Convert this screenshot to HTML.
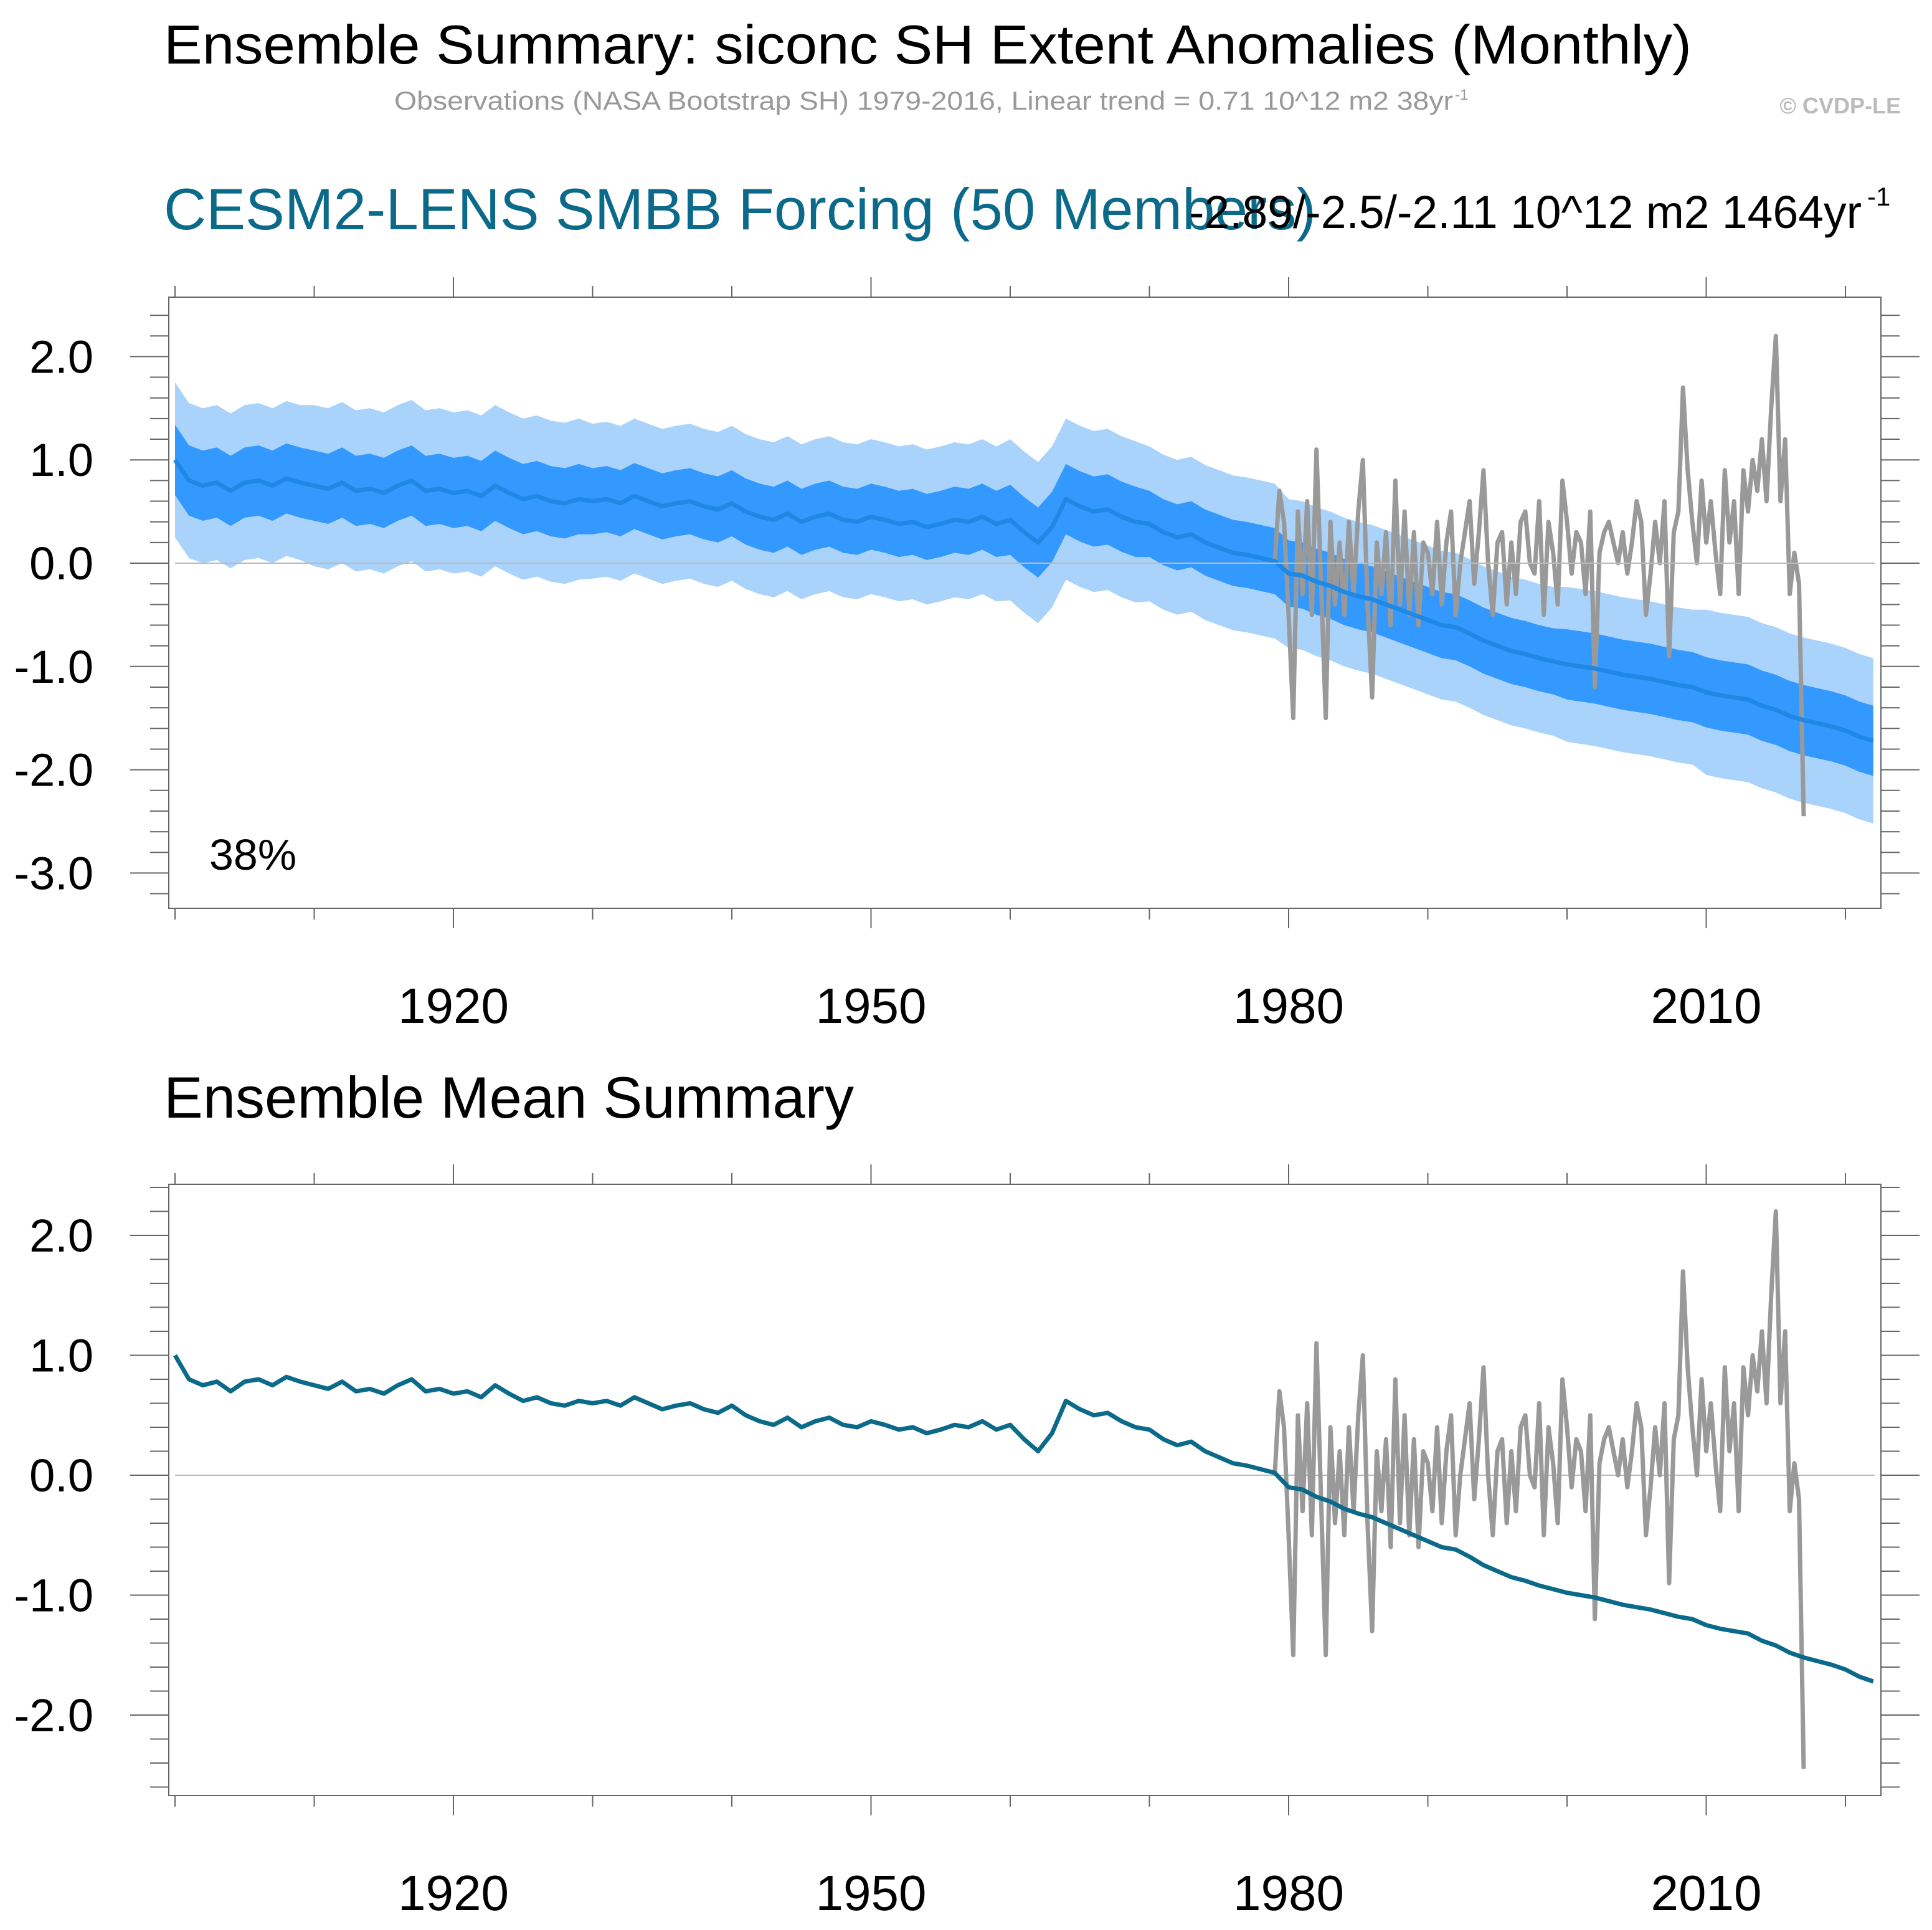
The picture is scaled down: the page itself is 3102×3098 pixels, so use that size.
<!DOCTYPE html>
<html><head><meta charset="utf-8"><style>
html,body{margin:0;padding:0;background:#fff}
svg{display:block}
text{font-family:"Liberation Sans",Arial,sans-serif}
</style></head><body>
<svg id="chart" width="3102" height="3098" viewBox="0 0 3102 3098" xmlns="http://www.w3.org/2000/svg">
<text x="263" y="102" font-size="88" fill="#000" textLength="2453" lengthAdjust="spacingAndGlyphs">Ensemble Summary: siconc SH Extent Anomalies (Monthly)</text>
<text x="633" y="176" font-size="42" fill="#999" textLength="1700" lengthAdjust="spacingAndGlyphs">Observations (NASA Bootstrap SH) 1979-2016, Linear trend = 0.71 10^12 m2 38yr</text>
<text x="2336" y="160" font-size="24" fill="#999">-1</text>
<text x="3052" y="182" font-size="36" font-weight="bold" fill="#bbb" text-anchor="end">© CVDP-LE</text>
<text x="263" y="368" font-size="94" fill="#0b6a8a" textLength="1850" lengthAdjust="spacingAndGlyphs">CESM2-LENS SMBB Forcing (50 Members)</text>
<text x="1909" y="366" font-size="74" fill="#000" textLength="1080" lengthAdjust="spacingAndGlyphs">-2.89/-2.5/-2.11 10^12 m2 1464yr</text>
<text x="2998" y="330" font-size="42" fill="#000">-1</text>
<text x="336" y="1396" font-size="70" fill="#000">38%</text>
<text x="263" y="1794" font-size="94" fill="#000" textLength="1108" lengthAdjust="spacingAndGlyphs">Ensemble Mean Summary</text>
<g id="p1"></g>
<g id="p2"></g>
</svg>
<script>
const years = [];
for (let y = 1900; y <= 2022; y++) years.push(y);
const ensMean = [1.0,0.8,0.75,0.78,0.7,0.78,0.8,0.75,0.82,0.78,
0.75,0.72,0.78,0.70,0.72,0.68,0.75,0.80,0.70,0.72,
0.68,0.70,0.65,0.75,0.68,0.62,0.65,0.60,0.58,0.62,
0.60,0.62,0.58,0.65,0.60,0.55,0.58,0.60,0.55,0.52,
0.58,0.50,0.45,0.42,0.48,0.40,0.45,0.48,0.42,0.40,
0.45,0.42,0.38,0.40,0.35,0.38,0.42,0.40,0.45,0.38,
0.42,0.30,0.20,0.35,0.62,0.55,0.50,0.52,0.45,0.40,
0.38,0.30,0.25,0.28,0.20,0.15,0.10,0.08,0.05,0.02,
-0.10,-0.12,-0.18,-0.22,-0.28,-0.32,-0.35,-0.40,-0.45,-0.50,
-0.55,-0.60,-0.62,-0.68,-0.75,-0.80,-0.85,-0.88,-0.92,-0.95,
-0.98,-1.00,-1.02,-1.05,-1.08,-1.10,-1.12,-1.15,-1.18,-1.20,
-1.25,-1.28,-1.30,-1.32,-1.38,-1.42,-1.48,-1.52,-1.55,-1.58,
-1.62,-1.68,-1.72];
// spread half-widths per decade (1900s..2020s)
const outerHalf = [0.75,0.78,0.78,0.75,0.75,0.75,0.78,0.75,0.72,0.72,0.75,0.8,0.8];
const innerHalf = [0.34,0.34,0.34,0.32,0.32,0.32,0.34,0.32,0.32,0.32,0.34,0.34,0.34];
const obsStart = 1979;
const obsVals = [0.0,0.7,0.4, -0.5,-1.5,0.5, -0.3,0.6,-0.5, 1.1,-0.2,-1.5, 0.4,-0.4,0.2, -0.5,0.4,-0.3,
0.5,1.0,-0.4, -1.3,0.2,-0.3, 0.3,-0.6,0.8, -0.4,0.5,-0.5, 0.3,-0.6,0.2, 0.1,-0.3,0.4,
-0.4,0.2,0.5, -0.5,0.0,0.3, 0.6,-0.2,0.3, 0.9,0.0,-0.5, 0.2,0.3,-0.4, 0.2,-0.3,0.4,
0.5,0.0,-0.1, 0.6,-0.5,0.4, 0.1,-0.4,0.8, 0.4,-0.1,0.3, 0.2,-0.3,0.5, -1.2,0.1,0.3,
0.4,0.2,0.0, 0.3,-0.1,0.2, 0.6,0.4,-0.5, -0.1,0.4,0.0, 0.6,-0.9,0.3, 0.5,1.7,0.9,
0.4,0.0,0.8, 0.2,0.6,0.1, -0.3,0.9,0.2, 0.6,-0.3,0.9, 0.5,1.0,0.7, 1.2,0.6,1.5,
2.2,0.6,1.2, -0.3,0.1,-0.2, -2.45];
const yTicks1 = [2,1,0,-1,-2,-3];
const yTicks2 = [2,1,0,-1,-2];
const xLabelYears = [1920,1950,1980,2010];

const NS = "http://www.w3.org/2000/svg";
function mk(parent, tag, attrs){const e=document.createElementNS(NS,tag);for(const k in attrs)e.setAttribute(k,attrs[k]);parent.appendChild(e);return e;}
const X0=281, PX=22.35;
const xs = yr => X0 + (yr-1900)*PX;

function frame(g, top, bot, zeroY, unit, yT, labelY, ymin, ymax){
  const L=271,R=3020;
  const zl = mk(g,'line',{x1:281,x2:3010,y1:zeroY,y2:zeroY,stroke:'#bbb','stroke-width':2});
   
  for(let yr=1900; yr<=2020; yr+=10){
    const big = xLabelYears.includes(yr);
    const x = xs(yr);
    mk(g,'line',{x1:x,x2:x,y1:top,y2:top-(big?32:18),stroke:'#666','stroke-width':2});
    mk(g,'line',{x1:x,x2:x,y1:bot,y2:bot+(big?32:18),stroke:'#666','stroke-width':2});
  }
  for(let v=Math.ceil(ymin*5)/5; v<=ymax+1e-6; v+=0.2){
    const y = zeroY - v*unit;
    if(y<top||y>bot) continue;
    const big = Math.abs(v-Math.round(v))<1e-6;
    mk(g,'line',{x1:L,x2:L-(big?62:30),y1:y,y2:y,stroke:'#666','stroke-width':2});
    mk(g,'line',{x1:R,x2:R+(big?62:30),y1:y,y2:y,stroke:'#666','stroke-width':2});
  }
  yT.forEach(v=>{
    const t = mk(g,'text',{x:150,y:zeroY - v*unit + 26,'font-size':74,'text-anchor':'end',fill:'#000'});
     
    t.textContent = v.toFixed(1);
  });
  xLabelYears.forEach(yr=>{
    const t = mk(g,'text',{x:xs(yr),y:labelY,'font-size':80,'text-anchor':'middle',fill:'#000'});
     
    t.textContent = yr;
  });
}
function linePath(xv, yv, ys){return xv.map((x,i)=>(i?'L':'M')+xs(x).toFixed(1)+','+ys(yv[i]).toFixed(1)).join('');}
function band(ys, halfArr){
  const up = years.map((y,i)=>xs(y).toFixed(1)+','+ys(ensMean[i]+halfArr[Math.floor((y-1900)/10)]).toFixed(1));
  const dn = years.map((y,i)=>xs(y).toFixed(1)+','+ys(ensMean[i]-halfArr[Math.floor((y-1900)/10)]).toFixed(1)).reverse();
  return 'M'+up.join('L')+'L'+dn.join('L')+'Z';
}
const obsYears = obsVals.map((v,i)=>obsStart+i/3);

// top panel
const g1 = document.getElementById('p1');
const ys1 = v => 904 - v*165.8;
const bo = mk(g1,'path',{d:band(ys1,outerHalf),fill:'#a9d3fb'});
 
const bi = mk(g1,'path',{d:band(ys1,innerHalf),fill:'#3399ff'});
 
const ob1 = mk(g1,'path',{d:linePath(obsYears,obsVals,ys1),fill:'none',stroke:'#999','stroke-width':7,'stroke-linejoin':'round'});
 
const m1 = mk(g1,'path',{d:linePath(years,ensMean,ys1),fill:'none',stroke:'#1e88e5','stroke-width':7,'stroke-linejoin':'round'});
 
frame(g1,477,1458,904,165.8,yTicks1,1642,-3.35,2.6);
const r1 = mk(g1,'rect',{x:271,y:477,width:2749,height:981,fill:'none',stroke:'#666','stroke-width':2});
 

// bottom panel
const g2 = document.getElementById('p2');
const ys2 = v => 2368 - v*192.5;
frame(g2,1901,2882,2368,192.5,yTicks2,3066,-2.65,2.45);
const ob2 = mk(g2,'path',{d:linePath(obsYears,obsVals,ys2),fill:'none',stroke:'#999','stroke-width':7,'stroke-linejoin':'round'});
 
const m2 = mk(g2,'path',{d:linePath(years,ensMean,ys2),fill:'none',stroke:'#0b6a8a','stroke-width':7,'stroke-linejoin':'round'});
 
const r2 = mk(g2,'rect',{x:271,y:1901,width:2749,height:981,fill:'none',stroke:'#666','stroke-width':2});
 
</script>
</body></html>
